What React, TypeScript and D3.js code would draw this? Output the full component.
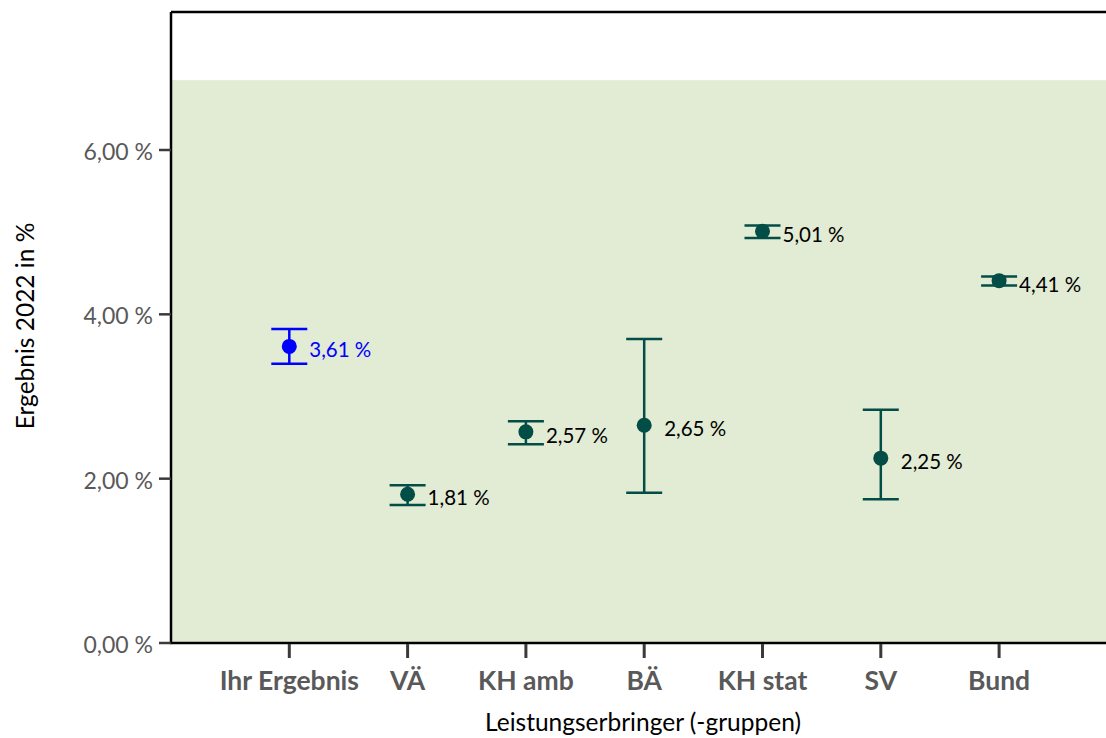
import { useEffect, useRef } from 'react';
import * as d3 from 'd3';

const categories = ['Ihr Ergebnis', 'VÄ', 'KH amb', 'BÄ', 'KH stat', 'SV', 'Bund'];
const values = [3.61, 1.81, 2.57, 2.65, 5.01, 2.25, 4.41];
const lower = [3.40, 1.68, 2.42, 1.83, 4.93, 1.75, 4.35];
const upper = [3.82, 1.92, 2.70, 3.70, 5.08, 2.84, 4.46];
const yTicks = [0, 2, 4, 6];
const bandRange = [0, 6.85];

const W = 1106;
const H = 738;
const FONT = 'Lato, "Open Sans", sans-serif';

export default function App() {
  const svgRef = useRef<SVGSVGElement>(null);

  useEffect(() => {
    if (!svgRef.current) return;
    const svg = d3.select(svgRef.current);
    svg.selectAll('*').remove();

    const left = 171;
    const top = 12;
    const bottom = 643;
    const step = 118.3;

    const y = d3.scaleLinear().domain([0, 6]).range([bottom, 150]);
    const yTop = y.invert(top);
    const x = d3.scalePoint<string>()
      .domain(categories)
      .range([left + step, left + step * categories.length]);

    const g = svg.append('g');

    // reference band
    g.append('rect')
      .attr('x', left)
      .attr('y', y(bandRange[1]))
      .attr('width', W - left + 10)
      .attr('height', y(bandRange[0]) - y(bandRange[1]))
      .attr('fill', '#e2ebd3');

    // frame
    g.append('line').attr('x1', left).attr('x2', W + 10).attr('y1', y(yTop)).attr('y2', y(yTop))
      .attr('stroke', '#000').attr('stroke-width', 2.5);
    g.append('line').attr('x1', left).attr('x2', left).attr('y1', y(yTop)).attr('y2', bottom)
      .attr('stroke', '#000').attr('stroke-width', 2.5);
    g.append('line').attr('x1', left - 1).attr('x2', W + 10).attr('y1', bottom).attr('y2', bottom)
      .attr('stroke', '#000').attr('stroke-width', 2.5);

    // y ticks
    yTicks.forEach(t => {
      g.append('line')
        .attr('x1', left - 12).attr('x2', left)
        .attr('y1', y(t)).attr('y2', y(t))
        .attr('stroke', '#3a3a3a').attr('stroke-width', 2.5);
      g.append('text')
        .attr('x', left - 18).attr('y', y(t) + 1)
        .attr('text-anchor', 'end')
        .attr('dominant-baseline', 'central')
        .style('font-family', FONT)
        .style('font-size', '23px')
        .style('fill', '#595959')
        .text(`${d3.format('.2f')(t).replace('.', ',')} %`);
    });

    // x ticks
    categories.forEach(c => {
      g.append('line')
        .attr('x1', x(c)!).attr('x2', x(c)!)
        .attr('y1', bottom + 1).attr('y2', bottom + 15)
        .attr('stroke', '#3a3a3a').attr('stroke-width', 3);
      g.append('text')
        .attr('x', x(c)!).attr('y', bottom + 47)
        .attr('text-anchor', 'middle')
        .style('font-family', FONT)
        .style('font-size', '26.5px')
        .style('font-weight', 'bold')
        .style('fill', '#595959')
        .text(c);
    });

    // axis titles
    g.append('text')
      .attr('transform', `translate(34,${326}) rotate(-90)`)
      .attr('text-anchor', 'middle')
      .style('font-family', FONT)
      .style('font-size', '24.5px')
      .style('fill', '#000')
      .text('Ergebnis 2022 in %');
    g.append('text')
      .attr('x', 643).attr('y', 731)
      .attr('text-anchor', 'middle')
      .style('font-family', FONT)
      .style('font-size', '24.5px')
      .style('fill', '#000')
      .text('Leistungserbringer (-gruppen)');

    // error bars and points
    categories.forEach((c, i) => {
      const color = i === 0 ? '#0000ff' : '#034d47';
      const cx = x(c)!;
      const cap = 18;
      g.append('line')
        .attr('x1', cx).attr('x2', cx)
        .attr('y1', y(lower[i])).attr('y2', y(upper[i]))
        .attr('stroke', color).attr('stroke-width', 2.5);
      [lower[i], upper[i]].forEach(v => {
        g.append('line')
          .attr('x1', cx - cap).attr('x2', cx + cap)
          .attr('y1', y(v)).attr('y2', y(v))
          .attr('stroke', color).attr('stroke-width', 2.5);
      });
      g.append('circle')
        .attr('cx', cx).attr('cy', y(values[i]))
        .attr('r', 7.5)
        .attr('fill', color);
      g.append('text')
        .attr('x', cx + 20).attr('y', y(values[i]) + 3)
        .attr('dominant-baseline', 'central')
        .style('font-family', FONT)
        .style('font-size', '20.5px')
        .style('fill', i === 0 ? '#0000ff' : '#000')
        .text(`${d3.format('.2f')(values[i]).replace('.', ',')} %`);
    });
  }, []);

  return (
    <svg
      ref={svgRef}
      width={W}
      height={H}
      style={{ position: 'absolute', left: 0, top: 0, display: 'block', background: '#fff' }}
    />
  );
}
